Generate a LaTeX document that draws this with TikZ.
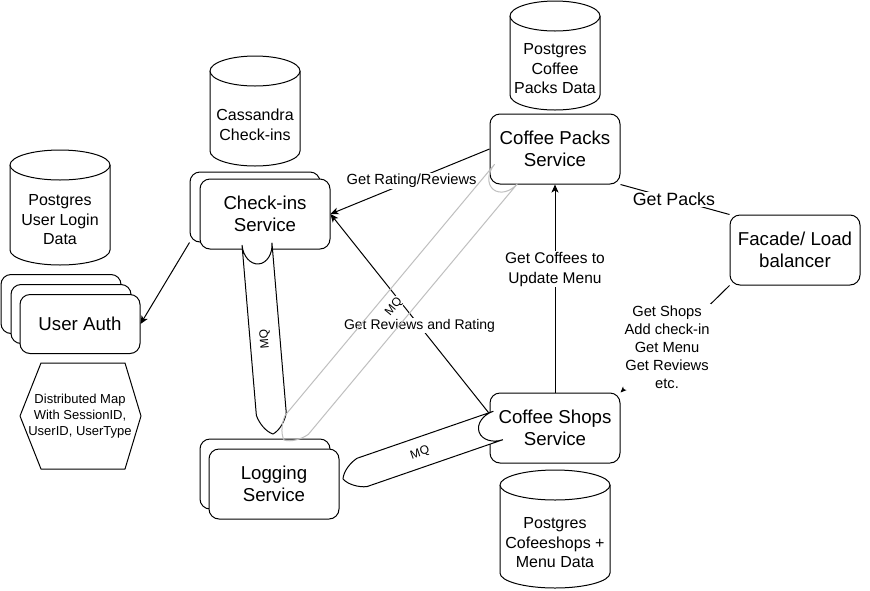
\documentclass[tikz,border=0pt]{standalone}
\usepackage{fontspec}
\setmainfont{Liberation Sans}
\usetikzlibrary{arrows.meta,calc}
% cylinder: x1 x2 ytop ybottom
\newcommand\dbcyl[4]{%
  \pgfmathsetmacro\cxa{(#1+#2)/2}%
  \pgfmathsetmacro\kx{0.5523*(#2-#1)/2}%
  \pgfmathsetmacro\tyc{#3+15}%
  \pgfmathsetmacro\byc{#4-15}%
  \filldraw[cylline] (#1,\tyc) -- (#1,\byc) .. controls (#1,\byc+8.28) and (\cxa-\kx,#4) .. (\cxa,#4)
    .. controls (\cxa+\kx,#4) and (#2,\byc+8.28) .. (#2,\byc) -- (#2,\tyc)
    .. controls (#2,\tyc-8.28) and (\cxa+\kx,#3) .. (\cxa,#3)
    .. controls (\cxa-\kx,#3) and (#1,\tyc-8.28) .. (#1,\tyc) -- cycle;
  \draw[cylline] (#1,\tyc) .. controls (#1,\tyc+8.28) and (\cxa-\kx,\tyc+15) .. (\cxa,\tyc+15)
    .. controls (\cxa+\kx,\tyc+15) and (#2,\tyc+8.28) .. (#2,\tyc);
}
% message-queue band: Ax Ay angle length linestyle fill
\newcommand\mqband[6]{%
  \begin{scope}[shift={(#1,#2)}, rotate=#3]
    \path[fill=#6] (0,15) -- ({#4-20},15) .. controls ({#4-12},13) and ({#4-3},7) .. (#4,0)
      .. controls ({#4-3},-7) and ({#4-12},-13) .. ({#4-20},-15) -- (0,-15) -- cycle;
    \draw[#5] (0,-15) .. controls (11,-15) and (20,-8.28) .. (20,0)
      .. controls (20,8.28) and (11,15) .. (0,15) -- ({#4-20},15)
      .. controls ({#4-12},13) and ({#4-3},7) .. (#4,0)
      .. controls ({#4-3},-7) and ({#4-12},-13) .. ({#4-20},-15) -- (0,-15);
  \end{scope}%
}
\begin{document}
\begin{tikzpicture}[x=1pt,y=-1pt,line join=round,
  cylline/.style={line width=1pt, fill=white},
  box/.style={draw, line width=1pt, fill=white, rounded corners=10pt,
    minimum width=130pt, minimum height=70pt, align=center, inner sep=0pt,
    font=\fontsize{18.67}{22.4}\selectfont},
  authbox/.style={box, minimum width=120pt, minimum height=59pt},
  dbtext/.style={align=center, inner sep=0pt, font=\fontsize{16}{19.5}\selectfont},
  lbl/.style={fill=white, inner sep=1pt, align=center},
  conn/.style={line width=1pt},
  arr/.style={conn, -{Stealth[length=8pt,width=7pt,inset=2pt]}},
  sarr/.style={conn, -{Stealth[length=6pt,width=5pt,inset=1.5pt]}},
  mqline/.style={line width=1pt},
  mqgrey/.style={line width=1pt, draw=black!25},
  mqlbl/.style={fill=white, inner sep=0.5pt, font=\fontsize{12}{14}\selectfont}
]
\path[use as bounding box, fill=white] (0,0) rectangle (870,590);

% databases
\dbcyl{210}{300}{56}{166}
\node[dbtext] (dbcas) at (255,125) {Cassandra\\Check-ins};
\dbcyl{510}{600}{1}{110}
\node[dbtext] (dbpack) at (555,69) {Postgres\\Coffee\\Packs Data};
\dbcyl{10}{110}{150}{265}
\node[dbtext] (dbuser) at (60,220) {Postgres\\User Login\\Data};
\dbcyl{500}{610}{470}{588}
\node[dbtext] (dbshop) at (555,543) {Postgres\\Cofeeshops +\\Menu Data};

% services
\node[box] (chkb) at (255,207) {};
\node[box] (chk) at (265,214) {Check-ins\\Service};
\node[authbox] (authb2) at (61,304) {};
\node[authbox] (authb1) at (71,314) {};
\node[authbox] (auth) at (80,324) {User Auth};
\node[box] (logb) at (265,474) {};
\node[box] (log) at (274,484) {Logging\\Service};
\node[box] (cpack) at (555,149) {Coffee Packs\\Service};
\node[box] (cshop) at (555,428) {Coffee Shops\\Service};
\node[box] (fac) at (795,250) {Facade/ Load\\balancer};

% hexagon
\draw[line width=1pt, fill=white] (41,363) -- (125,363) -- (141,416) -- (125,469) -- (41,469) -- (20,416) -- cycle;
\node[align=center, inner sep=0pt, font=\fontsize{13}{16}\selectfont] (hex) at (80,416) {Distributed Map\\With SessionID,\\UserID, UserType};

% connectors
\coordinate (cshopw) at ($(cshop.north west)!0.3!(cshop.south west)$);
\draw[arr] (chkb.south west) -- (auth.east);
\draw[arr] (cpack.west) -- node[lbl, pos=0.49, font=\fontsize{14.7}{17}\selectfont] (l1) {Get Rating/Reviews} (chk.east);
\draw[arr] (cshopw) -- node[lbl, pos=0.44, font=\fontsize{14}{17}\selectfont] (l2) {Get Reviews and Rating} (chk.east);
\draw[arr] (cshop.north) -- node[lbl, pos=0.593, font=\fontsize{15.5}{20}\selectfont] (l3) {Get Coffees to\\Update Menu} (cpack.south);
\draw[conn] (cpack.south east) -- node[lbl, pos=0.49, font=\fontsize{17.8}{21}\selectfont] (l4) {Get Packs} (fac.north west);
\draw[sarr] (fac.south west) -- node[lbl, pos=0.573, font=\fontsize{14.7}{18}\selectfont] (l5) {Get Shops\\Add check-in\\Get Menu\\Get Reviews\\etc.} (cshop.north east);

% message queues
\mqband{257}{244}{-85.19}{190.7}{mqline}{white}
\node[mqlbl, rotate=94.8] (mq1) at (265,339) {MQ};
\mqband{498}{425.5}{-160.96}{164}{mqline}{white}
\node[mqlbl, rotate=19] (mq3) at (420,453) {MQ};
\mqband{506}{174}{-129.84}{346.5}{mqgrey}{none}
\node[mqlbl, rotate=50.2] (mq2) at (394,307) {MQ};
\end{tikzpicture}
\end{document}
